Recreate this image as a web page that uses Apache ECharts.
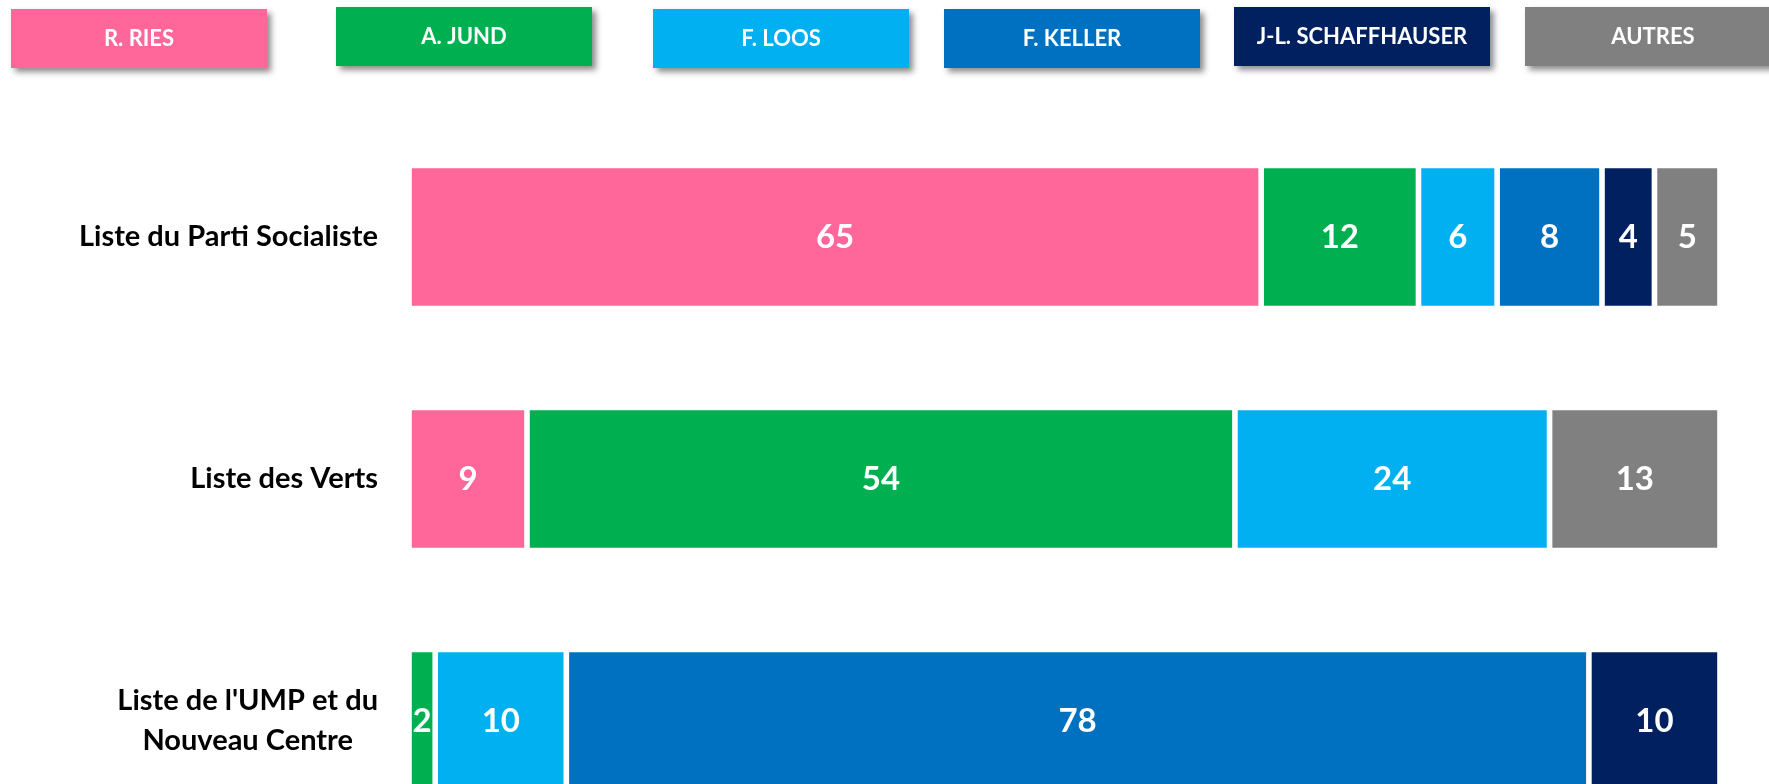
<!DOCTYPE html>
<html>
<head>
<meta charset="utf-8">
<script src="https://cdn.jsdelivr.net/npm/echarts@6/dist/echarts.min.js"></script>
<style>
  html, body { margin: 0; padding: 0; background: #fff; }
  #main { width: 1769px; height: 784px; }
</style>
</head>
<body>
<div id="main"></div>
<script>
// listes (lignes) et candidats (séries)
var listes = ['Liste du Parti Socialiste', 'Liste des Verts', "Liste de l'UMP et du\nNouveau Centre"];
var candidats = ['R. RIES', 'A. JUND', 'F. LOOS', 'F. KELLER', 'J-L. SCHAFFHAUSER', 'AUTRES'];

var ries = [65, 9, '-'];
var jund = [12, 54, 2];
var loos = [6, 24, 10];
var keller = [8, '-', 78];
var schaffhauser = [4, '-', 10];
var autres = [5, 13, '-'];

var couleurs = ['#FF6699', '#00B050', '#00B0F0', '#0070C0', '#002060', '#808080'];
// position des cases de légende
var legendeX = [11, 336, 653, 944, 1234, 1525];
var legendeY = [9, 7, 9, 9, 7, 7];

var myChart = echarts.init(document.getElementById('main'));
var police = 'Lato, "Open Sans", sans-serif';
var valeurs = [ries, jund, loos, keller, schaffhauser, autres];

var series = candidats.map(function (nom, i) {
    return {
        name: nom,
        type: 'bar',
        stack: 'total',
        barWidth: 143,
        data: valeurs[i],
        itemStyle: { color: couleurs[i], borderColor: '#fff', borderWidth: 2.8 },
        label: {
            show: true,
            position: 'inside',
            color: '#fff',
            fontFamily: police,
            fontWeight: 'bold',
            fontSize: 33
        },
        emphasis: { disabled: true }
    };
});

var legendes = candidats.map(function (nom, i) {
    return {
        data: [nom],
        left: legendeX[i] - 5,
        top: legendeY[i],
        padding: 0,
        icon: 'none',
        itemWidth: 0,
        itemHeight: 0,
        selectedMode: false,
        formatter: '{t|{name}}',
        textStyle: {
            backgroundColor: couleurs[i],
            shadowColor: 'rgba(0,0,0,0.45)',
            shadowBlur: 6,
            shadowOffsetX: 4,
            shadowOffsetY: 4,
            rich: {
                t: {
                    width: 256,
                    height: 59,
                    lineHeight: 59,
                    align: 'center',
                    color: '#fff',
                    fontFamily: police,
                    fontWeight: 'bold',
                    fontSize: 22
                }
            }
        }
    };
});

option = {
    animation: false,
    legend: legendes,
    grid: { left: 409, right: 49, top: 116, bottom: -58, outerBoundsMode: 'none' },
    xAxis: { type: 'value', min: 0, max: 100, show: false },
    yAxis: {
        type: 'category',
        inverse: true,
        data: listes,
        axisLine: { show: false },
        axisTick: { show: false },
        axisLabel: {
            margin: 31,
            align: 'right',
            formatter: function (v) {
                return v.split('\n').map(function (l) { return '{c|' + l + '}'; }).join('\n');
            },
            rich: {
                c: {
                    align: 'center',
                    color: '#000',
                    fontFamily: police,
                    fontWeight: 'bold',
                    fontSize: 29,
                    lineHeight: 40
                }
            }
        }
    },
    series: series
};
myChart.setOption(option);
</script>
</body>
</html>
